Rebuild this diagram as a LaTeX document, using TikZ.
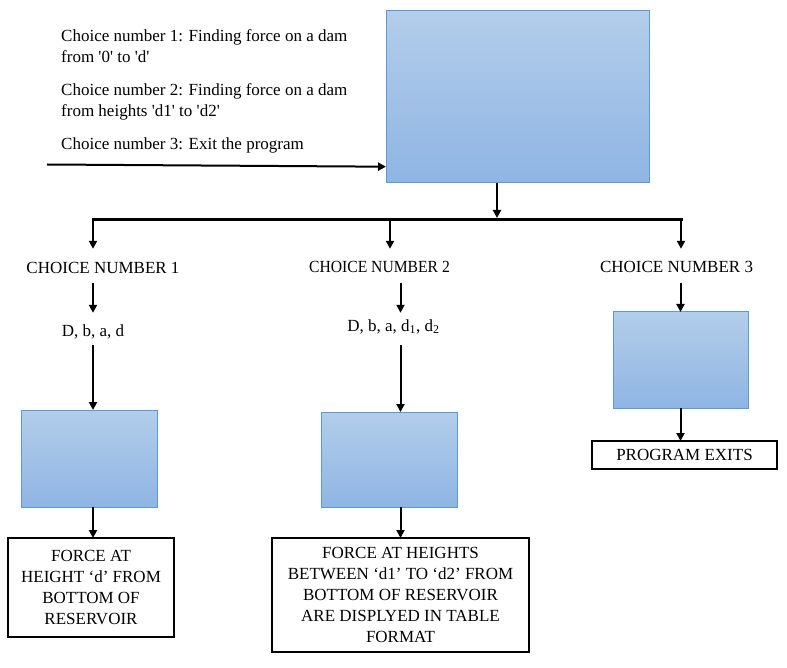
\documentclass[tikz,border=0pt]{standalone}
\usepackage{fontspec}
\setmainfont{Liberation Serif}
\usepackage{graphicx}
\usetikzlibrary{arrows.meta}
\definecolor{boxtop}{HTML}{B3CDEA}
\definecolor{boxbot}{HTML}{8FB5E3}
\definecolor{boxline}{HTML}{5B9BD5}
\begin{document}
\begin{tikzpicture}[x=1pt,y=-1pt,
  every node/.style={font=\fontsize{17}{20.8}\selectfont},
  bluebox/.style={draw=boxline, line width=1pt, top color=boxtop, bottom color=boxbot, inner sep=0pt, outer sep=0pt, anchor=north west},
  outbox/.style={draw=black, line width=1.2pt, inner sep=0pt, outer sep=0pt, align=center, anchor=north west},
  arr/.style={line width=2pt, -{Triangle[width=8pt,length=8pt]}},
  lbl/.style={anchor=base, inner sep=0pt},
  note/.style={anchor=base west, inner sep=0pt}
]
\useasboundingbox (0,0) rectangle (787,668);

% top notes
\node[note] (n1) at (61,42) {Choice number 1: Finding force on a dam};
\node[note] (n2) at (61,63) {from \textquotesingle 0\textquotesingle\ to \textquotesingle d\textquotesingle};
\node[note] (n3) at (61,96) {Choice number 2: Finding force on a dam};
\node[note] (n4) at (61,117) {from heights \textquotesingle d1\textquotesingle\ to \textquotesingle d2\textquotesingle};
\node[note] (n5) at (61,150) {Choice number 3: Exit the program};

% main box
\node[bluebox, minimum width=263pt, minimum height=172pt] (top) at (386,11) {};
\coordinate (in) at (47,164.5);
\draw[arr] (in) -- ([yshift=16.3pt]top.south west);

% bus
\coordinate (bl) at (92,219.5);
\coordinate (br) at (683,219.5);
\coordinate (bc) at (497,218);
\coordinate (b1) at (93,219.5);
\coordinate (b2) at (390,219.5);
\coordinate (b3) at (681,219.5);
\draw[arr] (bc |- top.south) -- (bc);
\draw[line width=3pt] (bl) -- (br);

% choice labels
\node[lbl, text height=25pt, text depth=9pt] (c1) at (103,274) {CHOICE NUMBER 1};
\node[lbl, text height=24pt, text depth=10pt] (c2) at (379.5,273) {\scalebox{0.92}[1]{CHOICE NUMBER 2}};
\node[lbl, text height=24pt, text depth=10pt] (c3) at (676.5,273) {CHOICE NUMBER 3};

% inputs
\node[lbl, text height=24pt, text depth=8pt] (d1) at (93,337) {D, b, a, d};
\node[lbl, text height=18pt, text depth=14pt] (d2) at (393.5,331) {D, b, a, d\textsubscript{1}, d\textsubscript{2}};

% process boxes
\node[bluebox, minimum width=136pt, minimum height=97pt] (box1) at (21,410) {};
\node[bluebox, minimum width=136pt, minimum height=95pt] (box2) at (321,412) {};
\node[bluebox, minimum width=135pt, minimum height=96pt] (box3) at (613,312) {};

% outputs
\node[outbox, minimum width=166pt, minimum height=99pt] (out1) at (8,538)
  {FORCE AT\\HEIGHT `d' FROM\\BOTTOM OF\\RESERVOIR};
\node[outbox, minimum width=257pt, minimum height=114pt] (out2) at (272,538)
  {FORCE AT HEIGHTS\\BETWEEN `d1' TO `d2' FROM\\BOTTOM OF RESERVOIR\\ARE DISPLYED IN TABLE\\FORMAT};
\node[outbox, minimum width=185pt, minimum height=28pt] (out3) at (592,441) {PROGRAM EXITS};

% column 1
\draw[arr] (b1) -- (b1 |- c1.north);
\draw[arr] (c1.south -| d1) -- (d1.north);
\draw[arr] (d1.south) -- (d1 |- box1.north);
\draw[arr] (d1 |- box1.south) -- (d1 |- out1.north);

% column 2
\draw[arr] (b2) -- (b2 |- c2.north);
\draw[arr] (c2.south -| out2.north) -- (d2.north -| out2.north);
\draw[arr] (d2.south -| out2.north) -- (box2.north -| out2.north);
\draw[arr] (box2.south -| out2.north) -- (out2.north);

% column 3
\draw[arr] (b3) -- (b3 |- c3.north);
\draw[arr] (c3.south -| box3.north) -- (box3.north);
\draw[arr] (box3.south) -- (box3.south |- out3.north);
\end{tikzpicture}
\end{document}
